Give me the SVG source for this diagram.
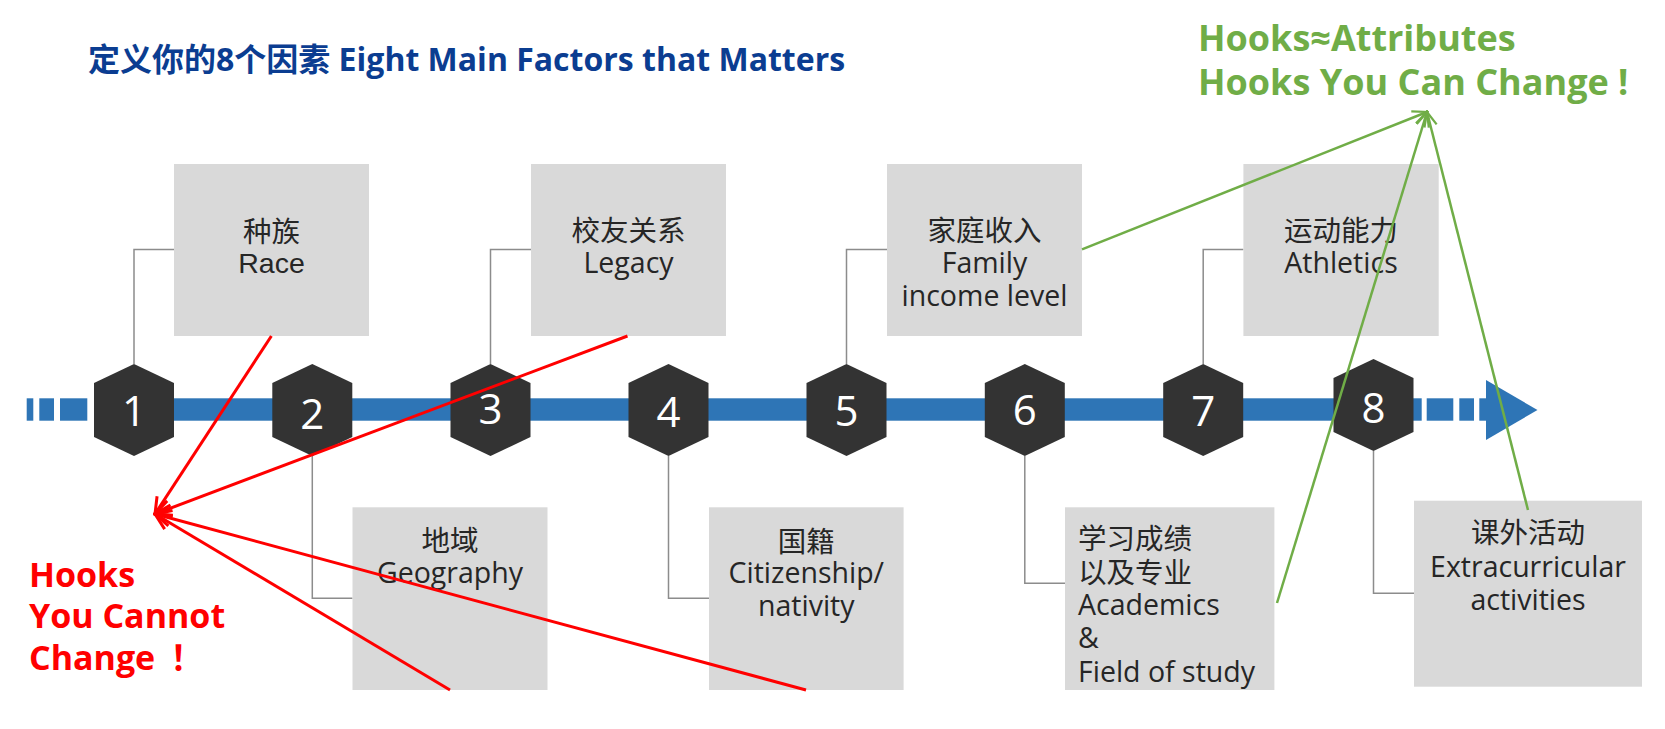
<svg xmlns="http://www.w3.org/2000/svg" width="1665" height="729" viewBox="0 0 1665 729">
<style>
.box{fill:#d9d9d9}
.hex{fill:#333333}
.num{font-family:"Open Sans","Noto Sans",sans-serif;font-size:42px;fill:#ffffff;text-anchor:middle}
.t{font-family:"Open Sans","Noto Sans CJK SC",sans-serif;font-size:28.5px;fill:#262626;text-anchor:middle}
.tl{text-anchor:start}
.conn{fill:none;stroke:#8c8c8c;stroke-width:1.5}
.bar{fill:#2e75b6}
.red{stroke:#ff0000;stroke-width:3;fill:none}
.green{stroke:#70ad47;stroke-width:2.5;fill:none}
</style>
<defs>
<marker id="arR" viewBox="0 0 20 20" refX="18" refY="10" markerWidth="20" markerHeight="20" orient="auto" markerUnits="userSpaceOnUse">
<path d="M2,2 L18,10 L2,18" fill="none" stroke="#ff0000" stroke-width="3"/>
</marker>
<marker id="arG" viewBox="0 0 20 20" refX="18" refY="10" markerWidth="18" markerHeight="18" orient="auto" markerUnits="userSpaceOnUse">
<path d="M2,3 L18,10 L2,17" fill="none" stroke="#70ad47" stroke-width="2.5"/>
</marker>
</defs>
<rect width="1665" height="729" fill="#ffffff"/>

<text x="88" y="71" font-family="'Open Sans','Noto Sans CJK SC',sans-serif" font-size="32" font-weight="bold" fill="#0b3d91">定义你的8个因素 Eight Main Factors that Matters</text>

<g id="green-title" font-family="'Open Sans','Noto Sans',sans-serif" font-size="36" font-weight="bold" fill="#70ad47">
<text x="1198" y="51">Hooks≈Attributes</text>
<text x="1198" y="95">Hooks You Can Change !</text>
</g>

<g id="red-title" font-family="'Open Sans','Noto Sans CJK SC',sans-serif" font-size="34" font-weight="bold" fill="#ff0000">
<text x="29" y="587">Hooks</text>
<text x="29" y="628">You Cannot</text>
<text x="29" y="670">Change<tspan x="170">！</tspan></text>
</g>

<g id="connectors">
<polyline class="conn" points="134,364 134,249.5 174,249.5"/>
<polyline class="conn" points="490.5,364 490.5,249.5 531,249.5"/>
<polyline class="conn" points="846.5,364 846.5,249.5 887,249.5"/>
<polyline class="conn" points="1203.2,364 1203.2,249.5 1243.4,249.5"/>
<polyline class="conn" points="312.3,456 312.3,598.3 352.5,598.3"/>
<polyline class="conn" points="668.5,456 668.5,598.3 709,598.3"/>
<polyline class="conn" points="1024.8,456 1024.8,583.3 1065,583.3"/>
<polyline class="conn" points="1373.5,451 1373.5,593.3 1414,593.3"/>
</g>

<g id="timeline">
<rect class="bar" x="26.7" y="398.3" width="6.6" height="22.4"/>
<rect class="bar" x="39.3" y="398.3" width="14.7" height="22.4"/>
<rect class="bar" x="60" y="398.3" width="27.3" height="22.4"/>
<rect class="bar" x="94" y="398.3" width="1327.7" height="22.4"/>
<rect class="bar" x="1426.7" y="398.3" width="26.6" height="22.4"/>
<rect class="bar" x="1459.3" y="398.3" width="14.7" height="22.4"/>
<rect class="bar" x="1479.3" y="398.3" width="8" height="22.4"/>
<polygon class="bar" points="1486,380 1537.5,410 1486,440"/>
</g>

<g id="hex1"><polygon class="hex" points="134,364 174,383 174,437 134,456 94,437 94,383"/><text class="num" x="134" y="426">1</text></g>
<g id="hex2"><polygon class="hex" points="312.3,364 352.3,383 352.3,437 312.3,456 272.3,437 272.3,383"/><text class="num" x="312.3" y="429">2</text></g>
<g id="hex3"><polygon class="hex" points="490.5,364 530.5,383 530.5,437 490.5,456 450.5,437 450.5,383"/><text class="num" x="490.5" y="424">3</text></g>
<g id="hex4"><polygon class="hex" points="668.5,364 708.5,383 708.5,437 668.5,456 628.5,437 628.5,383"/><text class="num" x="668.5" y="426.5">4</text></g>
<g id="hex5"><polygon class="hex" points="846.5,364 886.5,383 886.5,437 846.5,456 806.5,437 806.5,383"/><text class="num" x="846.5" y="426">5</text></g>
<g id="hex6"><polygon class="hex" points="1024.8,364 1064.8,383 1064.8,437 1024.8,456 984.8,437 984.8,383"/><text class="num" x="1024.8" y="425">6</text></g>
<g id="hex7"><polygon class="hex" points="1203.2,364 1243.2,383 1243.2,437 1203.2,456 1163.2,437 1163.2,383"/><text class="num" x="1203.2" y="426">7</text></g>
<g id="hex8"><polygon class="hex" points="1373.5,359 1413.5,378 1413.5,432 1373.5,451 1333.5,432 1333.5,378"/><text class="num" x="1373.5" y="423">8</text></g>

<g id="race"><rect class="box" x="174" y="164" width="195" height="172"/>
<text class="t" x="271.5" y="241.5">种族</text>
<text class="t" x="271.5" y="273" style="font-family:'Liberation Sans',Arial,sans-serif">Race</text></g>

<g id="legacy"><rect class="box" x="531" y="164" width="195" height="172"/>
<text class="t" x="628.5" y="240.7">校友关系</text>
<text class="t" x="628.5" y="272.7">Legacy</text></g>

<g id="family"><rect class="box" x="887" y="164" width="195" height="172"/>
<text class="t" x="984.5" y="240.7">家庭收入</text>
<text class="t" x="984.5" y="272.7">Family</text>
<text class="t" x="984.5" y="306">income level</text></g>

<g id="athletics"><rect class="box" x="1243.4" y="164" width="195.3" height="172"/>
<text class="t" x="1341" y="240.7">运动能力</text>
<text class="t" x="1341" y="272.7">Athletics</text></g>

<g id="geography"><rect class="box" x="352.5" y="507.3" width="195" height="182.7"/>
<text class="t" x="450" y="550.7">地域</text>
<text class="t" x="450" y="582.7">Geography</text></g>

<g id="citizenship"><rect class="box" x="709" y="507.3" width="194.6" height="182.7"/>
<text class="t" x="806.3" y="551.7">国籍</text>
<text class="t" x="806.3" y="583.3">Citizenship/</text>
<text class="t" x="806.3" y="616">nativity</text></g>

<g id="academics"><rect class="box" x="1065" y="507.3" width="209.4" height="182.7"/>
<text class="t tl" x="1078" y="549.3">学习成绩</text>
<text class="t tl" x="1078" y="582.7">以及专业</text>
<text class="t tl" x="1078" y="615">Academics</text>
<text class="t tl" x="1078" y="648.3">&amp;</text>
<text class="t tl" x="1078" y="681.7">Field of study</text></g>

<g id="extracurricular"><rect class="box" x="1414" y="500.7" width="228" height="186"/>
<text class="t" x="1528" y="543.3">课外活动</text>
<text class="t" x="1528" y="576.7">Extracurricular</text>
<text class="t" x="1528" y="610">activities</text></g>

<g id="hook-arrows">
<line class="red" x1="271.4" y1="336" x2="155" y2="514" marker-end="url(#arR)"/>
<line class="red" x1="627.5" y1="336" x2="155" y2="514" marker-end="url(#arR)"/>
<line class="red" x1="450" y1="690" x2="155" y2="514" marker-end="url(#arR)"/>
<line class="red" x1="806" y1="690" x2="155" y2="514" marker-end="url(#arR)"/>
<line class="green" x1="1082" y1="249.3" x2="1427" y2="112" marker-end="url(#arG)"/>
<line class="green" x1="1277" y1="603" x2="1427" y2="112" marker-end="url(#arG)"/>
<line class="green" x1="1528" y1="510" x2="1427" y2="112" marker-end="url(#arG)"/>
</g>
</svg>
